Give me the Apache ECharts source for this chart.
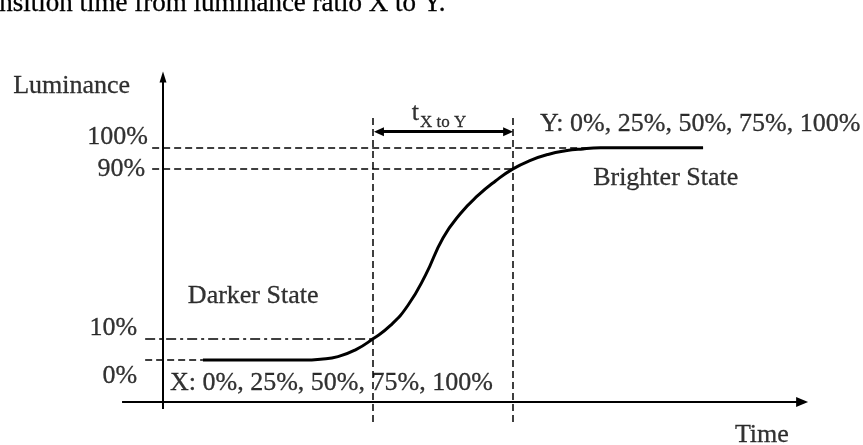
<!DOCTYPE html>
<html>
<head>
<meta charset="utf-8">
<script src="https://cdn.jsdelivr.net/npm/echarts@6/dist/echarts.min.js"></script>
<style>html,body{margin:0;padding:0;background:#fff;}#c{width:863px;height:445px;}</style>
</head>
<body>
<div id="c"></div>
<script>
// Response curve: time (arbitrary units) vs luminance (%)
const curveTime = [11.4, 40, 45, 50, 55, 60, 65, 70, 75, 80, 85, 90, 95, 100, 105, 110, 115, 120, 125, 130, 154.3];
const curveLum  = [0, 0, 0.4, 1.6, 4.8, 10, 16.3, 25.8, 40, 57.5, 69, 77.5, 84.3, 90, 94, 96.8, 98.5, 99.4, 99.9, 100, 100];

// Reference luminance levels and transition times
const levels = [100, 90, 10, 0];
const tStartX = 60;   // time where curve leaves X (10%)
const tEndY = 100;    // time where curve reaches Y (90%)

// Text annotations
const tickTexts = ['100%', '90%', '10%', '0%'];
const axisTitles = ['Luminance', 'Time'];
const stateTexts = ['Brighter State', 'Darker State'];
const ratioTexts = ['Y: 0%, 25%, 50%, 75%, 100%', 'X: 0%, 25%, 50%, 75%, 100%'];
const titleText = 'Transition time from luminance ratio X to Y.';

const FONT = "'Liberation Serif', 'Times New Roman', serif";
const dash = [7, 4];
const thin = {color: '#000', width: 1.5, type: dash};

function seg(a, b, style) {
  return [
    {coord: a, lineStyle: style, symbol: 'none', symbolSize: 0},
    {coord: b, symbol: 'none', symbolSize: 0}
  ];
}

const markData = [
  // guide lines
  seg([-3.1, levels[0]], [154.3, levels[0]], thin),
  seg([-3.1, levels[1]], [tEndY, levels[1]], thin),
  seg([-5.1, levels[2]], [tStartX, levels[2]], {color: '#000', width: 1.5, type: [10, 4, 3, 4]}),
  seg([-5.1, levels[3]], [curveTime[0], levels[3]], thin),
  seg([tStartX, 114], [tStartX, -30.5], thin),
  seg([tEndY, 114], [tEndY, -30.5], thin),
  // axes
  [{coord: [-11.7, -19.7], lineStyle: {color: '#000', width: 2, type: 'solid'}, symbol: 'none'},
   {coord: [182.6, -19.7], symbol: 'triangle', symbolSize: [10, 12]}],
  [{coord: [0, -23], lineStyle: {color: '#000', width: 2, type: 'solid'}, symbol: 'none'},
   {coord: [0, 133.3], symbol: 'triangle', symbolSize: [7, 11]}],
  // transition time arrow
  [{coord: [61.7, 107.5], lineStyle: {color: '#000', width: 3, type: 'solid'}, symbol: 'triangle', symbolSize: [9, 10]},
   {coord: [98.6, 107.5], symbol: 'triangle', symbolSize: [9, 10]}]
];

function lbl(text, t, lum, align, size) {
  return {
    value: [t, lum],
    label: {show: true, formatter: text, position: [0, 0], offset: [0, 2], align: align, verticalAlign: 'middle',
            fontSize: size || 26, fontFamily: FONT, color: '#000',
            textBorderColor: '#000', textBorderWidth: 0.3}
  };
}

const labelData = [
  lbl(axisTitles[0], -9.4, 130.0, 'right'),
  lbl(tickTexts[0], -4.3, 106.1, 'right'),
  lbl(tickTexts[1], -5.1, 90.6, 'right'),
  lbl(tickTexts[2], -7.4, 16.0, 'right'),
  lbl(tickTexts[3], -7.4, -6.6, 'right'),
  lbl('t', 71.1, 117.4, 'left'),
  lbl('X to Y', 73.4, 112.7, 'left', 17),
  lbl(ratioTexts[0], 107.7, 112.2, 'left'),
  lbl(stateTexts[0], 122.9, 86.4, 'left'),
  lbl(stateTexts[1], 7.1, 31.0, 'left'),
  lbl(ratioTexts[1], 2.0, -9.9, 'left'),
  lbl(axisTitles[1], 163.4, -34.3, 'left')
];

const chart = echarts.init(document.getElementById('c'), null, {renderer: 'canvas'});
chart.setOption({
  animation: false,
  backgroundColor: '#fff',
  grid: {left: 23, width: 840, top: 20.2, height: 426, containLabel: false},
  xAxis: {type: 'value', min: -40, max: 200, show: false},
  yAxis: {type: 'value', min: -40, max: 160, show: false},
  graphic: [{
    type: 'text', left: -37.5, top: -10,
    style: {text: titleText, font: "27px " + FONT, fill: '#000', stroke: '#000', lineWidth: 0.3}
  }],
  series: [
    {
      type: 'line',
      data: curveTime.map((t, i) => [t, curveLum[i]]),
      smooth: 0.5,
      showSymbol: false,
      symbol: 'none',
      lineStyle: {color: '#000', width: 3},
      silent: true,
      clip: false,
      markLine: {
        silent: true,
        animation: false,
        symbol: 'none',
        label: {show: false},
        emphasis: {disabled: true},
        data: markData
      }
    },
    {
      type: 'scatter',
      symbolSize: 0,
      silent: true,
      clip: false,
      data: labelData
    }
  ]
});
</script>
</body>
</html>
